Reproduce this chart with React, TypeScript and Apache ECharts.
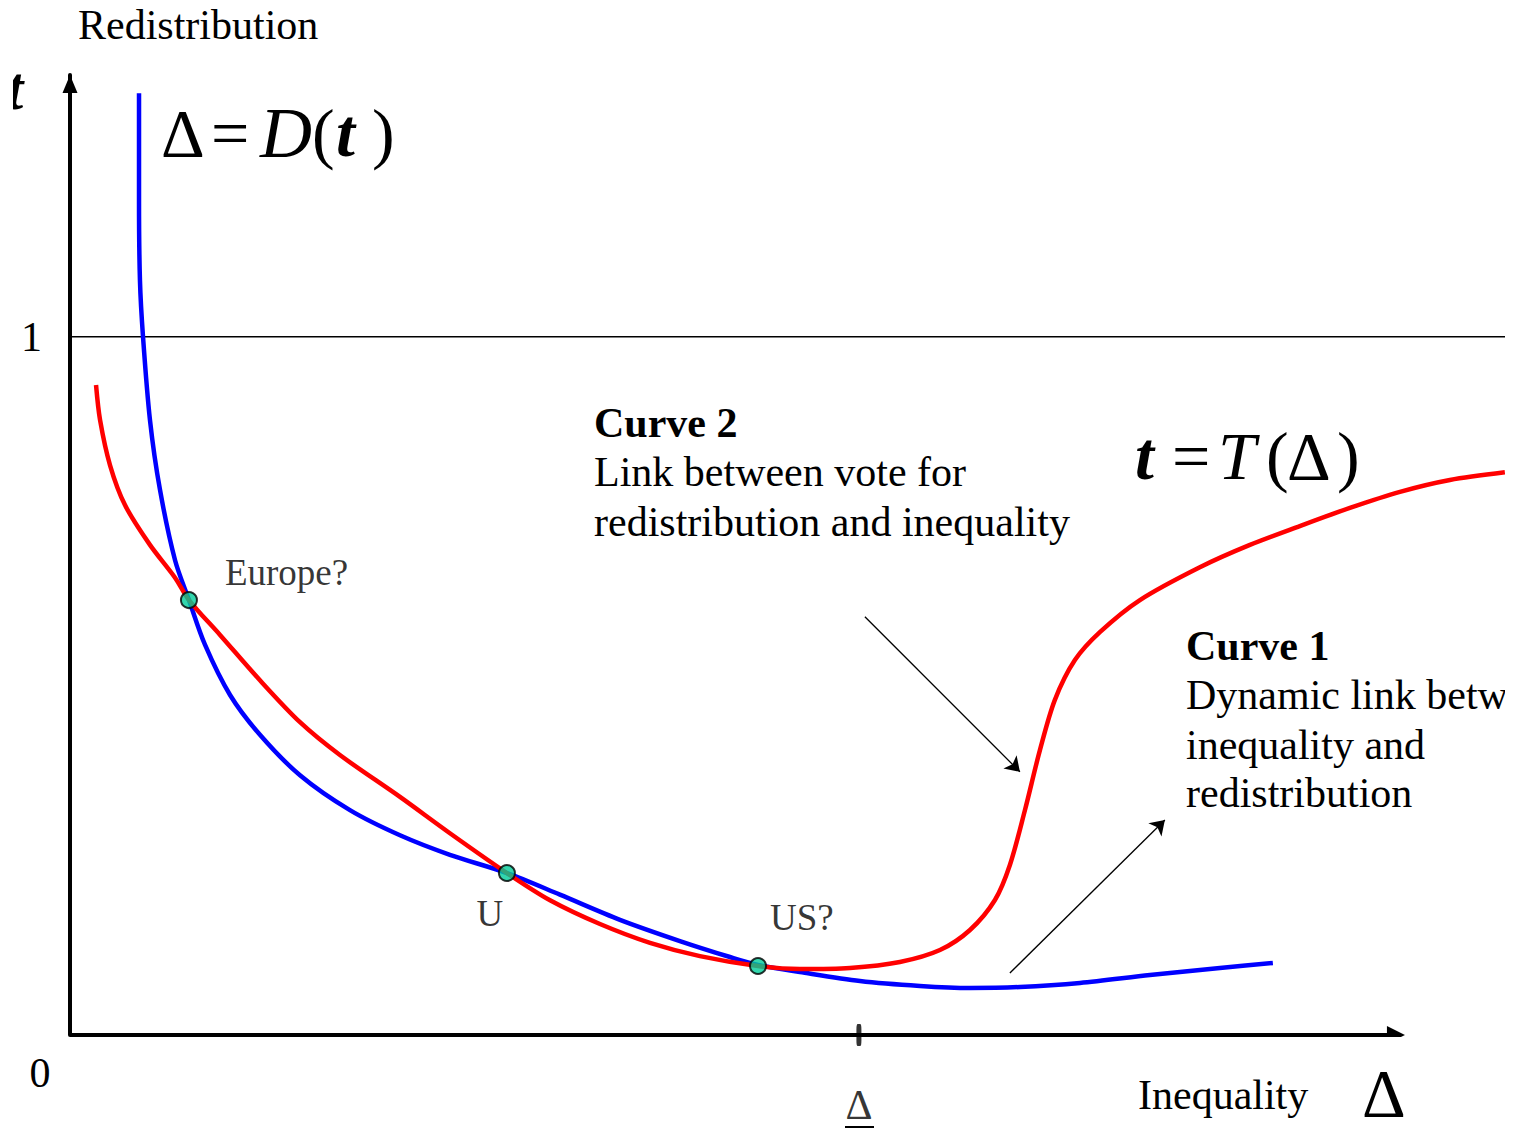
import React, { useEffect, useRef } from 'react';
import * as echarts from 'echarts';

const SERIF = '"Liberation Serif", "Times New Roman", serif';

// Curve 1: dynamic link between inequality and redistribution, Δ = D(t)
const curve1D: [number, number][] = [
  [5.17, 1.349], [5.17, 1.196], [5.24, 1.081], [5.47, 1.0], [5.99, 0.881],
  [6.74, 0.781], [7.87, 0.68], [8.91, 0.623], [10.11, 0.559], [11.99, 0.487],
  [14.23, 0.43], [17.23, 0.372], [20.97, 0.322], [24.72, 0.286], [28.46, 0.258],
  [32.73, 0.232], [36.7, 0.201], [41.2, 0.165], [45.69, 0.1346], [49.44, 0.1117],
  [51.54, 0.1003], [54.68, 0.0902], [59.18, 0.0773], [63.67, 0.0702], [67.42, 0.0673],
  [71.16, 0.0687], [75.66, 0.0745], [80.9, 0.0859], [86.14, 0.096], [90.11, 0.1031],
];

// Curve 2: link between vote for redistribution and inequality, t = T(Δ)
const curve2T: [number, number][] = [
  [1.95, 0.931], [2.25, 0.881], [3.0, 0.816], [4.12, 0.759], [5.99, 0.702],
  [7.87, 0.655], [8.91, 0.623], [11.24, 0.573], [14.23, 0.508], [17.23, 0.448],
  [20.22, 0.401], [24.72, 0.341], [28.46, 0.289], [32.73, 0.232], [35.96, 0.193],
  [39.7, 0.159], [43.45, 0.132], [47.19, 0.113], [51.54, 0.0988], [54.68, 0.0945],
  [58.43, 0.096], [62.17, 0.1046], [65.17, 0.1217], [67.42, 0.1504], [69.29, 0.1934],
  [70.41, 0.2435], [71.54, 0.3223], [72.66, 0.408], [73.78, 0.48], [75.28, 0.537],
  [77.15, 0.577], [80.15, 0.623], [84.64, 0.67], [88.39, 0.702], [92.13, 0.729],
  [95.88, 0.755], [99.63, 0.778], [103.37, 0.795], [107.49, 0.806],
];

const equilibriumNames = ['Europe?', 'U', 'US?'];
const equilibriumPoints: [number, number][] = [[8.91, 0.623], [32.73, 0.232], [51.54, 0.0988]];

const deltaStar = 59.1;
const unitLevel = 1;
const xMax = 107.5;
const yMax = 1.375;
const xAxisEnd = 99.33;

const arrowCurve2: [number, number][] = [[59.55, 0.599], [71.16, 0.377]];
const arrowCurve1: [number, number][] = [[70.41, 0.0888], [82.02, 0.308]];

const curve2Lines = ['Curve 2', 'Link between vote for', 'redistribution and inequality'];
const curve1Lines = ['Curve 1', 'Dynamic link between', 'inequality and', 'redistribution'];

function txt(text: string, x: number, y: number, size: number, extra: any = {}) {
  return {
    type: 'text',
    x,
    y,
    z: 20,
    style: {
      text,
      fill: '#000',
      fontFamily: SERIF,
      fontSize: size,
      align: 'left',
      verticalAlign: 'middle',
      ...extra,
    },
  };
}

export default function App() {
  const ref = useRef<HTMLDivElement>(null);

  useEffect(() => {
    if (!ref.current) return;
    const chart = echarts.init(ref.current, undefined, { renderer: 'svg' });

    const labelOffsets: any[] = [
      { align: 'left', offset: [36, -28] },
      { align: 'center', offset: [-17, 40] },
      { align: 'left', offset: [12, -49] },
    ];

    const graphic: any[] = [
      // cropped y-axis symbol at top-left
      txt('t', 6, 88, 62, { fontStyle: 'italic', fontWeight: 'bold' }),
      { type: 'rect', z: 25, shape: { x: 0, y: 50, width: 13, height: 80 }, style: { fill: '#fff' } },
      txt('Redistribution', 78, 25, 42),
      txt('0', 40, 1073, 42, { align: 'center' }),
      // Δ = D(t)
      txt('Δ', 161, 133, 68),
      txt('=', 211, 133, 68),
      txt('D', 260, 133, 72, { fontStyle: 'italic' }),
      txt('(', 312, 133, 68),
      txt('t', 336, 133, 68, { fontStyle: 'italic', fontWeight: 'bold' }),
      txt(')', 372, 133, 68),
      // t = T(Δ)
      txt('t', 1135, 456, 68, { fontStyle: 'italic', fontWeight: 'bold' }),
      txt('=', 1172, 456, 68),
      txt('T', 1218, 456, 68, { fontStyle: 'italic' }),
      txt('(', 1266, 456, 68),
      txt('Δ', 1287, 456, 68),
      txt(')', 1337, 456, 68),
      // Curve 2 annotation
      txt(curve2Lines[0], 594, 423, 42, { fontWeight: 'bold' }),
      txt(curve2Lines[1], 594, 472, 42),
      txt(curve2Lines[2], 594, 522, 42),
      // Curve 1 annotation
      txt(curve1Lines[0], 1186, 646, 42, { fontWeight: 'bold' }),
      txt(curve1Lines[1], 1186, 695, 42),
      txt(curve1Lines[2], 1186, 745, 42),
      txt(curve1Lines[3], 1186, 793, 42),
      // x axis title
      txt('Inequality', 1138, 1095, 42),
      txt('Δ', 1362, 1093, 68),
      // underline of the Δ* tick label
      { type: 'line', z: 20, shape: { x1: 845, y1: 1127, x2: 874, y2: 1127 }, style: { stroke: '#000', lineWidth: 2 } },
    ];

    chart.setOption({
      animation: false,
      backgroundColor: '#fff',
      grid: { left: 70, right: 0, top: 75, bottom: 98 },
      xAxis: {
        type: 'value',
        min: 0,
        max: xMax,
        axisLine: { show: false },
        axisTick: { show: false },
        axisLabel: { show: false },
        splitLine: { show: false },
      },
      yAxis: {
        type: 'value',
        min: 0,
        max: yMax,
        interval: 1,
        axisLine: {
          show: true,
          symbol: ['none', 'triangle'],
          symbolSize: [15, 18],
          symbolOffset: [0, -9],
          lineStyle: { color: '#000', width: 4 },
        },
        axisTick: { show: false },
        splitLine: { show: false },
        axisLabel: {
          formatter: (v: number) => (v === 1 ? '1' : ''),
          fontFamily: SERIF,
          fontSize: 42,
          color: '#000',
          margin: 28,
          showMaxLabel: false,
        },
      },
      series: [
        {
          type: 'line',
          data: [[0, unitLevel], [xMax, unitLevel]],
          symbol: 'none',
          silent: true,
          lineStyle: { color: '#000', width: 1.4 },
          z: 2,
        },
        {
          type: 'lines',
          coordinateSystem: 'cartesian2d',
          data: [{ coords: [[0, 0], [xAxisEnd, 0]] }],
          symbol: ['none', 'triangle'],
          symbolSize: [15, 18],
          silent: true,
          lineStyle: { color: '#000', width: 4, opacity: 1, curveness: 0 },
          z: 2,
        },
        {
          type: 'line',
          name: 'D',
          data: curve1D,
          smooth: 0.3,
          symbol: 'none',
          lineStyle: { color: '#0000FF', width: 4.5 },
          z: 3,
        },
        {
          type: 'line',
          name: 'T',
          data: curve2T,
          smooth: 0.3,
          symbol: 'none',
          lineStyle: { color: '#FF0000', width: 4.5 },
          z: 4,
        },
        {
          type: 'lines',
          coordinateSystem: 'cartesian2d',
          data: [{ coords: arrowCurve2 }, { coords: arrowCurve1 }],
          symbol: ['none', 'arrow'],
          symbolSize: [10, 14],
          lineStyle: { color: '#000', width: 1.3, opacity: 1, curveness: 0 },
          z: 5,
        },
        {
          type: 'scatter',
          data: [[deltaStar, 0]],
          symbol: 'roundRect',
          symbolSize: [5, 22],
          itemStyle: { color: '#000' },
          z: 6,
          label: {
            show: true,
            position: 'bottom',
            distance: 38,
            formatter: 'Δ',
            fontFamily: SERIF,
            fontSize: 42,
            color: '#000',
          },
        },
        {
          type: 'scatter',
          data: equilibriumPoints.map((p, i) => ({
            value: p,
            name: equilibriumNames[i],
            label: { ...labelOffsets[i] },
          })),
          symbolSize: 16,
          itemStyle: { color: '#00CC99', borderColor: '#000', borderWidth: 2 },
          z: 10,
          label: {
            show: true,
            position: 'inside',
            formatter: '{b}',
            fontFamily: SERIF,
            fontSize: 37,
            color: '#000',
            verticalAlign: 'middle',
          },
        },
      ],
      graphic,
    });

    return () => chart.dispose();
  }, []);

  return (
    <div style={{ position: 'absolute', left: 0, top: 0, width: 1525, height: 1133, background: '#fff' }}>
      <div ref={ref} style={{ position: 'absolute', left: 0, top: 0, width: 1505, height: 1133 }} />
    </div>
  );
}
